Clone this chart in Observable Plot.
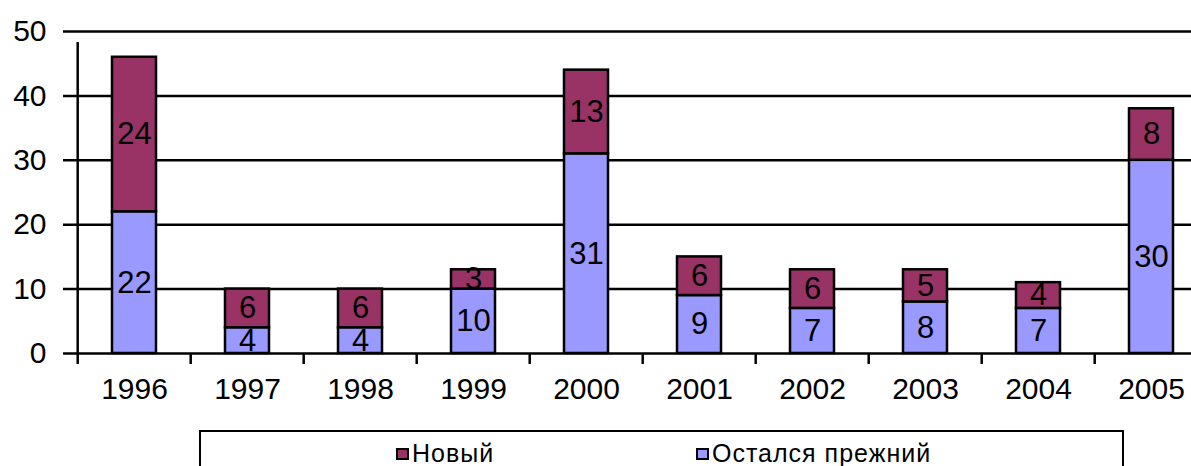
<!DOCTYPE html>
<html><head><meta charset="utf-8">
<script src="https://cdn.jsdelivr.net/npm/d3@7"></script>
<script src="https://cdn.jsdelivr.net/npm/@observablehq/plot@0.6"></script>
<style>
body{margin:0;background:#fff;font-family:"Liberation Sans",Arial,sans-serif;}
#wrap{position:relative;width:1191px;height:466px;overflow:hidden;background:#fff;}
#chart svg{display:block;}
#legendBox{position:absolute;left:199px;top:430px;width:925px;height:60px;border:2px solid #000;box-sizing:border-box;}
.sw{position:absolute;top:448px;width:13px;height:12px;box-sizing:border-box;border:2px solid #000;}
.lt{position:absolute;top:441px;font-size:25px;line-height:25px;letter-spacing:1px;color:#000;white-space:nowrap;}
</style>
</head><body>
<div id="wrap"><div id="chart"></div><div id="legendBox"></div></div>
<script>
const years = ["1996","1997","1998","1999","2000","2001","2002","2003","2004","2005"];
const kept = [22,4,4,10,31,9,7,8,7,30];
const fresh = [24,6,6,3,13,6,6,5,4,8];
const seriesNames = ["Новый","Остался прежний"];
const seriesColors = ["#993366","#9999FF"];
const yTicks = [0,10,20,30,40,50];

const table = [];
years.forEach((y,i)=>{ table.push({year:y, series:seriesNames[1], value:kept[i]}); });
years.forEach((y,i)=>{ table.push({year:y, series:seriesNames[0], value:fresh[i]}); });

const xRange = [74, 1210];
const step = (xRange[1]-xRange[0])/years.length;

const plot = Plot.plot({
  width: 1191, height: 430,
  marginLeft: 74, marginRight: 0, marginTop: 31, marginBottom: 77,
  style: {fontFamily: "'Liberation Sans', Arial, sans-serif", background: "#fff", color: "#000", overflow: "visible"},
  x: {type: "band", domain: years, range: xRange, paddingInner: 0.613, paddingOuter: 0.3065, axis: null},
  y: {domain: [0,50], range: [353,31], axis: null},
  color: {domain: seriesNames, range: seriesColors},
  marks: [
    Plot.ruleY(yTicks, {y: d=>d, stroke: "#000", strokeWidth: 2.5, insetLeft: -11}),
    Plot.ruleX([years[0]], {x: d=>d, dx: -step/2, y1: yTicks[0], y2: yTicks[yTicks.length-1], stroke: "#000", strokeWidth: 2.5, insetBottom: -11}),
    Plot.ruleX(years, {x: d=>d, dx: -step/2, y1: 0, y2: 0, stroke: "#000", strokeWidth: 2.5, insetBottom: -11}),
    Plot.barY(table, Plot.stackY({x: "year", y: "value", z: "series", fill: "series", stroke: "#000", strokeWidth: 2.5})),
    Plot.text(table, Plot.stackY({x: "year", y: "value", z: "series", text: d=>String(d.value), fontSize: 31, fill: "#000"})),
    Plot.text(years, {x: d=>d, text: d=>d, frameAnchor: "bottom", dy: 45, fontSize: 30, fill: "#000"}),
    Plot.text(yTicks, {y: d=>d, text: d=>String(d), frameAnchor: "left", dx: -28, textAnchor: "end", fontSize: 30, fill: "#000"})
  ]
});
document.getElementById("chart").appendChild(plot);

const wrap = document.getElementById("wrap");
const legendPos = [{sw:396, tx:412},{sw:696, tx:712}];
seriesNames.forEach((n,i)=>{
  const s = document.createElement("div");
  s.className = "sw"; s.style.left = legendPos[i].sw + "px"; s.style.background = seriesColors[i];
  wrap.appendChild(s);
  const t = document.createElement("div");
  t.className = "lt"; t.style.left = legendPos[i].tx + "px"; t.textContent = n;
  wrap.appendChild(t);
});
</script>
</body></html>
